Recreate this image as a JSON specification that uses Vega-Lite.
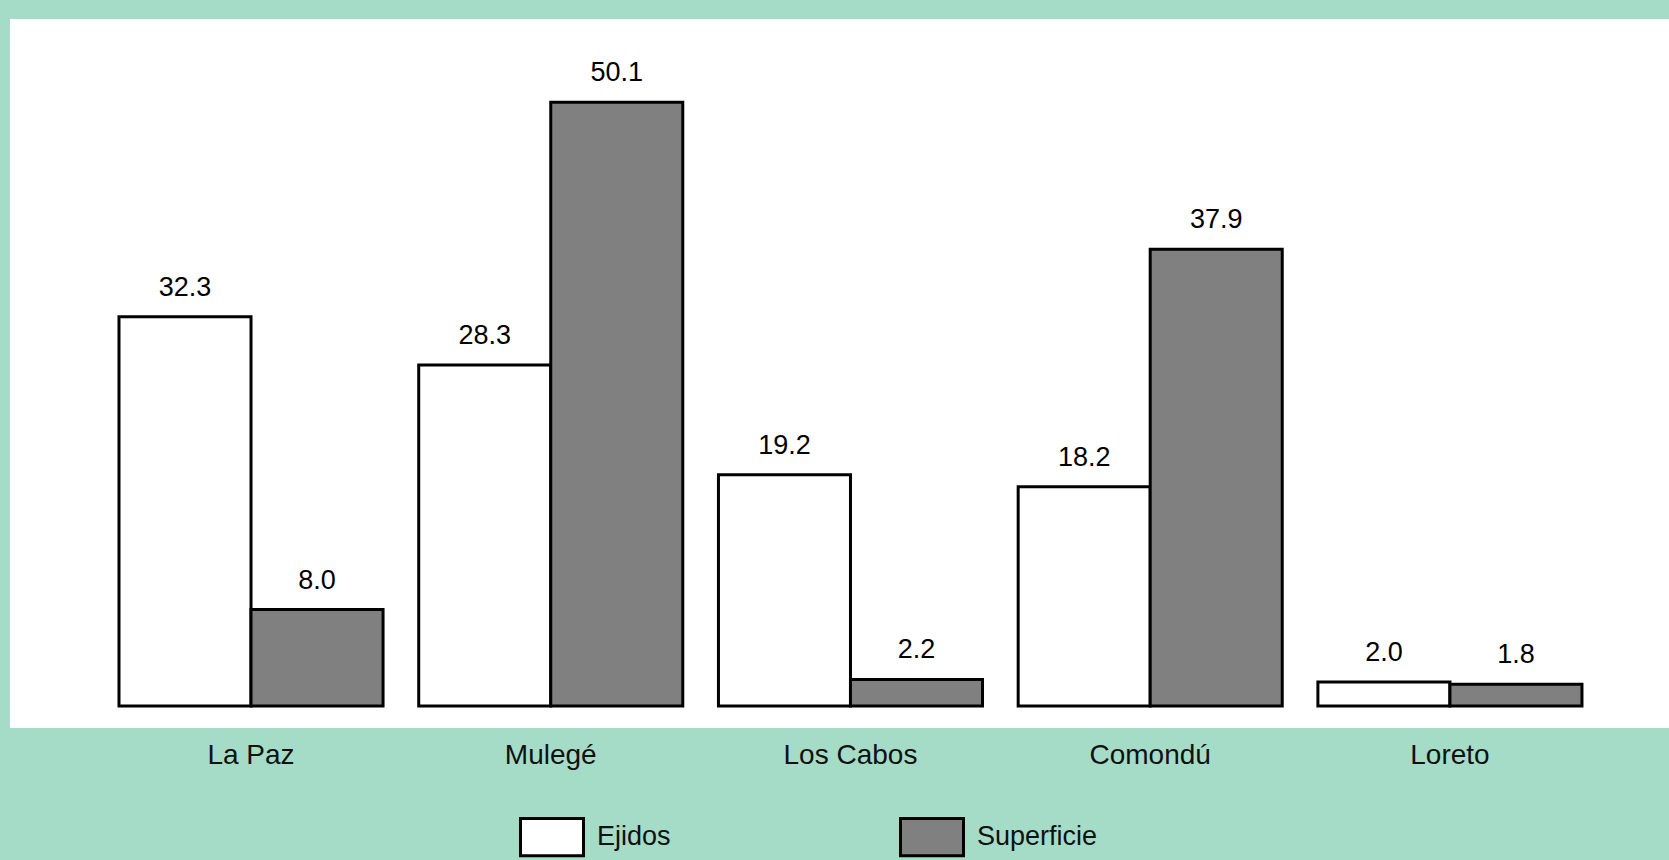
{
  "$schema": "https://vega.github.io/schema/vega-lite/v6.json",
  "autosize": "none",
  "width": 1659,
  "height": 709,
  "padding": {"left": 10, "top": 19, "right": 0, "bottom": 132},
  "background": "#a5dcc8",
  "view": {"fill": "white", "stroke": null},
  "data": {
    "values": [
      {"Municipio": "La Paz", "Serie": "Ejidos", "Valor": 32.3},
      {"Municipio": "La Paz", "Serie": "Superficie", "Valor": 8.0},
      {"Municipio": "Mulegé", "Serie": "Ejidos", "Valor": 28.3},
      {"Municipio": "Mulegé", "Serie": "Superficie", "Valor": 50.1},
      {"Municipio": "Los Cabos", "Serie": "Ejidos", "Valor": 19.2},
      {"Municipio": "Los Cabos", "Serie": "Superficie", "Valor": 2.2},
      {"Municipio": "Comondú", "Serie": "Ejidos", "Valor": 18.2},
      {"Municipio": "Comondú", "Serie": "Superficie", "Valor": 37.9},
      {"Municipio": "Loreto", "Serie": "Ejidos", "Valor": 2.0},
      {"Municipio": "Loreto", "Serie": "Superficie", "Valor": 1.8}
    ]
  },
  "encoding": {
    "x": {
      "field": "Municipio", "type": "nominal", "sort": null,
      "scale": {"paddingInner": 0.119, "paddingOuter": 0.327, "align": 0.556},
      "axis": {"title": null, "labelAngle": 0, "domain": false, "ticks": false, "labelPadding": 13, "labelFontSize": 28, "labelFont": "Liberation Sans", "labelColor": "#111111", "labelFontWeight": "normal"}
    },
    "xOffset": {"field": "Serie", "type": "nominal", "sort": ["Ejidos", "Superficie"], "scale": {"paddingInner": 0, "paddingOuter": 0}},
    "y": {"field": "Valor", "type": "quantitative", "scale": {"domain": [-1.826, 57.01], "nice": false}, "axis": null}
  },
  "layer": [
    {
      "mark": {"type": "bar", "stroke": "black", "strokeWidth": 3, "opacity": 1},
      "encoding": {
        "fill": {
          "field": "Serie", "type": "nominal", "sort": ["Ejidos", "Superficie"],
          "scale": {"range": ["white", "#808080"]},
          "legend": {
            "orient": "none", "legendX": 509, "legendY": 785, "direction": "horizontal", "title": null,
            "symbolType": "M-1,-0.59L1,-0.59L1,0.59L-1,0.59Z", "symbolSize": 3969,
            "symbolStrokeColor": "black", "symbolStrokeWidth": 3, "symbolOpacity": 1,
            "labelFontSize": 27, "labelFont": "Liberation Sans", "labelColor": "#111111",
            "labelOffset": 12, "columnPadding": 223
          }
        }
      }
    },
    {
      "mark": {"type": "text", "baseline": "alphabetic", "dy": -21, "fontSize": 27, "font": "Liberation Sans", "color": "black"},
      "encoding": {"text": {"field": "Valor", "type": "quantitative", "format": ".1f"}}
    }
  ]
}
